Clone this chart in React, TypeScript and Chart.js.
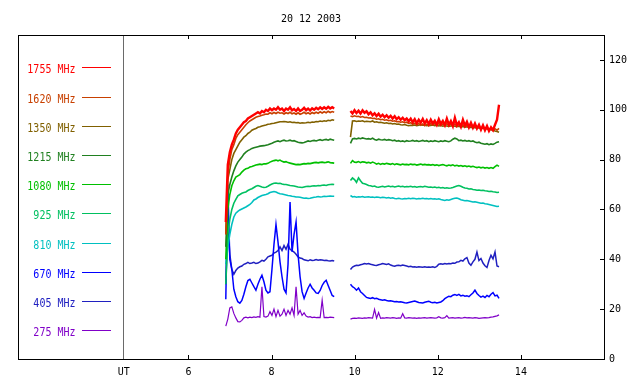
import React, { useEffect, useRef } from 'react';
import { Chart, registerables } from 'chart.js';

Chart.register(...registerables);

const TITLE = '20 12 2003';
const UT_LABEL = 'UT';
const UT_POS = 4.445;
const X_MIN = 1.9;
const X_MAX = 16;
const Y_MIN = 0;
const Y_MAX = 130;
const X_TICKS = [6, 8, 10, 12, 14];
const Y_TICKS = [0, 20, 40, 60, 80, 100, 120];

// sampling of the two observing segments (hours UT)
const SEG1_START = 6.9;
const SEG2_START = 9.9;
const STEP = 0.0483;

const FREQS = ['1755 MHz', '1620 MHz', '1350 MHz', '1215 MHz', '1080 MHz', '925 MHz', '810 MHz', '670 MHz', '405 MHz', '275 MHz'];
const COLORS = ['#ff0000', '#c84000', '#806000', '#208020', '#00c000', '#00c060', '#00c0c0', '#0000ff', '#2020c0', '#8000c8'];
const WIDTHS = [2.4, 1.6, 1.6, 1.6, 1.6, 1.6, 1.6, 1.5, 1.5, 1.2];

// ---- segment 1 ----
const F1755_A = [55, 78, 83, 86, 88, 90.5, 92, 93, 94, 95,
  95.5, 96.5, 97, 97.5, 98, 98.5, 99, 98.5, 99.5, 99,
  100, 99.5, 100.5, 99.8, 100.5, 100, 101, 100, 100.5, 99.5,
  100.5, 100, 101, 99.8, 100.3, 99.5, 100.5, 99.5, 100, 100.8,
  99.8, 100.5, 99.7, 100.6, 100, 100.8, 100.2, 101, 100.3, 101,
  100.4, 101.2, 100.5, 101, 100.5];
const F1620_A = [50, 74, 80, 84, 86, 88.5, 90, 91, 92, 93,
  94, 94.8, 95.5, 96, 96.5, 97, 97.3, 97.5, 97.8, 98,
  98.3, 98.2, 98.8, 98.4, 98.9, 98.5, 99, 98.6, 98.8, 98.3,
  98.8, 98.5, 99, 98.4, 98.7, 98.2, 98.8, 98.2, 98.5, 99,
  98.4, 98.8, 98.3, 98.9, 98.5, 99, 98.6, 99.2, 98.7, 99.2,
  98.8, 99.4, 98.9, 99.3, 99];
const F1350_A = [50, 72, 76, 80, 82.5, 84, 85.5, 87, 88, 89,
  89.6, 90.5, 91, 91.8, 92.2, 92.5, 93, 93.2, 93.5, 93.7,
  93.9, 94.2, 94.3, 94.5, 94.6, 94.8, 95, 95.2, 95.2, 95.3,
  95.2, 95, 95.2, 94.9, 95, 94.8, 94.9, 94.6, 94.8, 94.7,
  94.8, 95, 94.8, 95.1, 95, 95.3, 95.2, 95.5, 95.3, 95.6,
  95.4, 95.8, 95.6, 96, 95.8];
const F1215_A = [45, 66, 70, 73, 75.5, 77.5, 79, 80, 81, 82.2,
  83, 83.6, 84, 84.5, 84.8, 85, 85.2, 85.4, 85.5, 85.6,
  85.8, 86, 86.3, 86.6, 87, 87.3, 87.5, 87.2, 87.6, 87.8,
  87.5, 87.6, 87.8, 87.5, 87.6, 87.3, 87, 86.8, 86.7, 86.9,
  87.2, 87.5, 87.3, 87.6, 87.7, 87.5, 87.8, 88, 87.7, 88,
  88.1, 87.8, 88.2, 88, 87.8];
const F1080_A = [40, 60, 66, 69.5, 71.5, 73, 73.5, 74, 75, 75.8,
  76.3, 76.5, 77, 77.2, 77.5, 77.8, 78, 78.2, 78, 78.3,
  78.3, 78.5, 79, 79.3, 79.6, 79.8, 79.5, 79.8, 79.3, 79,
  79.2, 78.8, 78.6, 78.4, 78.2, 78, 78.1, 78, 78.2, 78.4,
  78.3, 78.5, 78.4, 78.6, 78.8, 78.9, 78.7, 78.9, 79, 78.8,
  78.9, 79.1, 78.8, 78.7, 78.6];
const F925_A = [30, 50, 56, 60, 62.5, 64, 65.5, 66, 66.5, 66.8,
  67, 67.6, 68, 68.3, 68.8, 69.3, 69.6, 69.3, 69, 68.8,
  68.9, 69.3, 69.8, 70.2, 70.5, 70.6, 70.4, 70.5, 70.2, 70,
  70, 69.8, 69.6, 69.5, 69.4, 69.2, 69, 68.9, 68.8, 69,
  69.2, 69.3, 69.2, 69.4, 69.5, 69.4, 69.6, 69.5, 69.7, 69.8,
  69.6, 69.9, 70, 70.1, 70];
const F810_A = [38, 45, 50, 54, 57, 58.5, 59.2, 59.8, 60.2, 60.6,
  61, 61.5, 62, 62.8, 63.8, 64.2, 64.8, 65.2, 65.6, 65.8,
  66, 66.3, 66.8, 67, 67.2, 67, 66.6, 66.3, 66.2, 66,
  65.8, 65.6, 65.5, 65.3, 65.2, 65, 65, 64.9, 64.7, 64.5,
  64.6, 64.4, 64.5, 64.7, 64.9, 65, 65.2, 65, 65.1, 65.3,
  65.2, 65.3, 65.4, 65.3, 65.3];
const F670_A = [24, 70, 40, 36, 28, 25, 23, 22.4, 23.5, 26,
  29, 31.5, 32, 30.5, 29, 27.6, 30, 32, 33.6, 31,
  27.6, 26.5, 27, 36, 46, 54, 47, 39, 33, 28,
  26.5, 38, 63, 43, 50, 55, 42, 33, 27, 24.3,
  26.5, 28.5, 30, 28.5, 27.6, 26.5, 26.3, 27.5, 29.5, 30.8,
  31.6, 29.5, 27.5, 25.5, 25];
const F405_A = [30, 55, 42, 36, 34, 35.5, 36.5, 37, 37.3, 38,
  38.3, 38.8, 38.3, 38.5, 38.8, 38.3, 38.5, 39, 39.6, 39.3,
  40, 41, 41.3, 41.6, 42.5, 42.9, 43.5, 45, 43.5, 45.5,
  44, 46, 44, 43.5, 42.9, 42, 41, 40.5, 40.3, 39.8,
  39.6, 39.4, 39.8, 39.5, 39.6, 39.9, 39.6, 39.8, 39.7, 39.5,
  39.6, 39.4, 39.3, 39.5, 39.3];
const F275_A = [13.2, 16, 20.5, 20.9, 18.3, 16.5, 15, 14.9, 15.5, 16.5,
  16.8, 16.5, 16.8, 16.6, 16.9, 16.7, 17, 16.8, 29, 17,
  16.8, 17.2, 19, 17.5, 20, 17, 19.5, 17.2, 18, 20,
  17.5, 19.5, 18, 20.5, 17.5, 29, 18, 19.5, 17.5, 18.5,
  17.2, 16.8, 17, 16.6, 16.8, 16.6, 16.7, 16.6, 23.6, 16.6,
  16.7, 16.6, 16.8, 16.7, 16.6];

// ---- segment 2 ----
const F1755_B = [99.5, 98.5, 99.8, 98.7, 99.6, 98.5, 99.8, 98.8, 99.4, 98.2,
  99, 97.8, 98.6, 97.5, 98.4, 97.2, 98, 97, 97.8, 96.8,
  97.6, 96.5, 97.4, 96.2, 97, 96, 96.8, 95.8, 96.5, 95.4,
  96.4, 95, 96.2, 94.6, 96, 94.8, 96.3, 94.5, 95.8, 94.3,
  96, 94.5, 95.6, 94, 96.2, 94.3, 95.5, 93.8, 96.4, 94,
  95.5, 93.5, 96.8, 93.8, 95, 93.2, 96, 93.6, 95.2, 93,
  94.8, 92.8, 94.5, 92.5, 94, 92, 93.8, 91.8, 93.5, 91.5,
  93, 91.8, 94, 96, 102];
const F1620_B = [97.5, 97.2, 97.6, 97.3, 97.4, 97, 97.3, 96.9, 97, 96.7,
  96.8, 96.5, 96.6, 96.2, 96.4, 96, 96.2, 95.8, 96, 95.6,
  95.8, 95.4, 95.6, 95.2, 95.3, 95, 95.2, 94.8, 95, 94.5,
  94.8, 94.2, 94.6, 94, 94.5, 93.8, 94.3, 93.6, 94.2, 93.5,
  94.5, 94, 94.4, 93.8, 94.5, 93.7, 94.2, 93.8, 94.4, 93.6,
  94.2, 93.5, 94.3, 93.3, 94, 93.2, 94, 93.1, 93.8, 93,
  93.6, 92.9, 93.4, 92.7, 93.2, 92.4, 93, 92.2, 92.8, 92,
  92.3, 91.6, 92.4, 91.8, 92.5];
const F1350_B = [89, 95.5, 95.6, 95.3, 95.5, 95.4, 95.6, 95.2, 95.4, 95.3,
  95.2, 95.5, 95, 95.2, 94.9, 95, 94.8, 94.6, 94.8, 94.5,
  94.6, 94.3, 94.5, 94.2, 94.3, 94, 93.9, 94.1, 93.8, 93.6,
  93.8, 93.7, 93.9, 93.6, 93.8, 94, 93.8, 93.9, 93.6, 93.8,
  93.7, 93.9, 93.6, 93.8, 93.5, 93.7, 93.4, 93.6, 93.5, 93.3,
  93.5, 93.6, 93.4, 93.2, 93.4, 93.1, 93.3, 93, 93.2, 92.9,
  93, 92.8, 92.9, 92.6, 92.8, 92.5, 92.7, 92.3, 92.5, 92.2,
  92, 91.8, 91.5, 91.3, 91];
const F1215_B = [86.5, 88.3, 88.5, 88.3, 88.6, 88.4, 88.7, 88.5, 88.3, 88.4,
  88.2, 88.6, 88.1, 87.8, 88.2, 88, 87.9, 88.1, 87.8, 88,
  87.9, 87.6, 87.8, 87.4, 87.6, 87.3, 87.5, 87.2, 87.6, 87.4,
  87.5, 87.7, 87.4, 87.6, 87.3, 87.5, 87.7, 87.4, 87.6, 87.2,
  87.5, 87.3, 87.6, 87.4, 87.2, 87.5, 87.3, 87.6, 87.4, 87.2,
  87.5, 88.2, 88.6, 88.3, 87.6, 87.8, 87.5, 87.7, 87.4, 87.6,
  87.3, 87.5, 87.1, 86.8, 87, 86.6, 86.4, 86.2, 86.4, 86,
  86.3, 86.1, 86.5, 87, 87.2];
const F1080_B = [78.5, 79.6, 79, 78.9, 79.2, 78.8, 79.1, 79, 78.7, 78.9,
  78.6, 79, 78.7, 78.2, 78.5, 78.1, 78.4, 78.2, 78.5, 78.3,
  78.1, 78.4, 78, 78.3, 78.1, 77.9, 78.2, 78, 78.1, 77.9,
  78.2, 78, 78.1, 77.8, 78, 78.2, 77.9, 78.1, 77.9, 78,
  77.8, 78, 77.7, 77.9, 77.6, 77.8, 78, 77.7, 77.5, 77.8,
  77.6, 77.9, 77.5, 77.7, 77.4, 77.6, 77.3, 77.5, 77.2, 77.4,
  77.1, 77.3, 77, 76.8, 77, 76.7, 76.9, 76.6, 76.8, 76.5,
  76.8, 76.5, 77.2, 77.8, 77.3];
const F925_B = [71.6, 72.7, 72, 70.9, 72.7, 71.5, 70.5, 70.3, 70, 69.6,
  69.5, 69.2, 69.4, 69, 68.9, 69.1, 69.3, 69, 69.2, 69.4,
  69.1, 69.3, 69, 69.2, 69.4, 69.1, 69.3, 69, 69.2, 69.1,
  69.3, 69, 69.2, 68.9, 69.1, 69.2, 69, 69.3, 69.1, 68.9,
  69, 68.8, 69, 68.7, 68.9, 68.6, 68.8, 68.5, 68.7, 68.5,
  68.6, 68.8, 69.1, 69.4, 69.6, 69.3, 68.9, 68.6, 68.5, 68.2,
  68.3, 68, 67.9, 67.7, 67.8, 67.6, 67.7, 67.5, 67.4, 67.2,
  67.3, 67.1, 67, 66.8, 66.9];
const F810_B = [65.6, 65, 65.2, 64.9, 65.1, 65, 65.2, 64.9, 65, 65.1,
  64.9, 65, 64.8, 65, 64.9, 64.7, 64.9, 64.8, 64.6, 64.8,
  64.5, 64.7, 64.4, 64.3, 64.5, 64.3, 64.2, 64.4, 64.3, 64.5,
  64.3, 64.5, 64.4, 64.2, 64.4, 64.3, 64.5, 64.3, 64.4, 64.2,
  64.4, 64.2, 64.3, 64.1, 64.3, 64, 63.8, 63.6, 63.9, 63.7,
  64, 64.3, 64.5, 64.6, 64.3, 63.9, 63.7, 63.5, 63.6, 63.4,
  63.2, 63, 63.1, 62.9, 62.7, 62.5, 62.6, 62.3, 62.2, 62,
  61.8, 61.6, 61.4, 61.2, 61.3];
const F670_B = [30, 29, 28.5, 27.6, 28.5, 27, 26.3, 25.5, 24.7, 24.5,
  24.3, 24.6, 24.2, 24.4, 24, 23.8, 23.6, 23.8, 23.5, 23.3,
  23.4, 23.2, 23, 23.1, 22.9, 23, 22.8, 22.6, 22.5, 22.7,
  22.9, 23.1, 23.3, 23, 22.7, 22.6, 22.5, 22.8, 23, 23.2,
  22.8, 22.6, 22.8, 22.5, 22.7, 22.9, 23.4, 24.2, 24.7, 25.2,
  25, 25.6, 25.9, 25.5, 25.9, 25.3, 25.6, 25.2, 25.4, 25,
  25.8, 26.5, 27.6, 26.3, 25.5, 24.8, 25.2, 24.7, 25.5, 25,
  26, 26.6, 25.3, 25.6, 24.3];
const F405_B = [35.9, 36.9, 37.3, 37.6, 37.5, 37.8, 38, 38.3, 38.1, 38.3,
  38, 37.8, 37.6, 37.5, 37.8, 38, 38.3, 38.1, 37.9, 38.2,
  37.7, 37.4, 37.2, 37.5, 37.6, 37.4, 37.7, 37.5, 37.3, 37,
  37.2, 36.9, 37, 36.8, 37, 36.9, 36.8, 37, 36.8, 36.9,
  36.8, 37, 36.7, 37.2, 38, 38.2, 38, 38.3, 38.1, 38.3,
  38.2, 38.5, 38.4, 38.9, 39, 39.6, 39.3, 40.2, 40.7, 38.5,
  37.6, 39, 40, 42.9, 39.5, 40.3, 38.5, 37.4, 36.7, 39.5,
  41.6, 40.2, 42.9, 37.3, 37];
const F275_B = [16, 16.3, 16.4, 16.3, 16.5, 16.4, 16.3, 16.5, 16.4, 16.6,
  16.5, 16.4, 19.9, 16.4, 18.6, 16.3, 16.5, 16.4, 16.6, 16.5,
  16.4, 16.6, 16.5, 16.3, 16.5, 16.4, 18.2, 16.5, 16.4, 16.6,
  16.5, 16.4, 16.5, 16.3, 16.5, 16.4, 16.5, 16.6, 16.4, 16.5,
  16.6, 16.5, 16.4, 16.5, 17, 16.5, 16.4, 16.6, 17.4, 16.4,
  16.5, 16.6, 16.4, 16.5, 16.6, 16.4, 16.5, 16.7, 16.5, 16.6,
  16.5, 16.4, 16.6, 16.5, 16.3, 16.4, 16.5, 16.6, 16.5, 16.6,
  16.8, 16.9, 17.1, 17.3, 17.7];

const SERIES_A = [F1755_A, F1620_A, F1350_A, F1215_A, F1080_A, F925_A, F810_A, F670_A, F405_A, F275_A];
const SERIES_B = [F1755_B, F1620_B, F1350_B, F1215_B, F1080_B, F925_B, F810_B, F670_B, F405_B, F275_B];

const FONT = 'DejaVu Sans Mono';

function buildPoints(a: number[], b: number[]) {
  const pts: { x: number; y: number | null }[] = a.map((v, i) => ({ x: SEG1_START + i * STEP, y: v }));
  pts.push({ x: (SEG1_START + (a.length - 1) * STEP + SEG2_START) / 2, y: null });
  b.forEach((v, i) => pts.push({ x: SEG2_START + i * STEP, y: v }));
  return pts;
}

const framePlugin = {
  id: 'frameDecor',
  afterDraw(chart: any) {
    const { ctx, chartArea: a, scales } = chart;
    ctx.save();
    ctx.strokeStyle = '#000';
    ctx.lineWidth = 1;
    ctx.strokeRect(a.left + 0.5, a.top + 0.5, a.right - a.left, a.bottom - a.top);
    ctx.beginPath();
    X_TICKS.forEach((v) => {
      const x = Math.round(scales.x.getPixelForValue(v)) + 0.5;
      ctx.moveTo(x, a.bottom);
      ctx.lineTo(x, a.bottom - 4);
      ctx.moveTo(x, a.top);
      ctx.lineTo(x, a.top + 4);
    });
    Y_TICKS.forEach((v) => {
      const y = Math.round(scales.y.getPixelForValue(v)) + 0.5;
      ctx.moveTo(a.right, y);
      ctx.lineTo(a.right - 4, y);
    });
    ctx.stroke();

    // title
    ctx.fillStyle = '#000';
    ctx.font = `10px "${FONT}"`;
    ctx.textAlign = 'center';
    ctx.textBaseline = 'alphabetic';
    ctx.fillText(TITLE, (a.left + a.right) / 2, 21.5);

    // legend
    const row0 = 67.3;
    const gap = 29.22;
    FREQS.forEach((label, i) => {
      const y = Math.round(row0 + i * gap) + 0.5;
      ctx.strokeStyle = COLORS[i];
      ctx.beginPath();
      ctx.moveTo(82, y);
      ctx.lineTo(111, y);
      ctx.stroke();
      ctx.fillStyle = COLORS[i];
      ctx.save();
      ctx.translate(75.5, y + 5);
      ctx.scale(1, 1.25);
      ctx.textAlign = 'right';
      ctx.fillText(label, 0, 0);
      ctx.restore();
    });
    ctx.restore();
  },
};

export default function App() {
  const ref = useRef<HTMLCanvasElement>(null);
  useEffect(() => {
    if (!ref.current) return;
    const datasets = FREQS.map((label, i) => ({
      label,
      data: buildPoints(SERIES_A[i], SERIES_B[i]),
      borderColor: COLORS[i],
      backgroundColor: COLORS[i],
      borderWidth: WIDTHS[i],
      pointRadius: 0,
      tension: 0,
      fill: false,
      spanGaps: false,
    }));
    const chart = new Chart(ref.current, {
      type: 'line',
      data: { datasets },
      options: {
        animation: false,
        responsive: false,
        maintainAspectRatio: false,
        layout: { padding: { left: 18, top: 35, right: 0, bottom: 0 } },
        plugins: {
          legend: { display: false },
          tooltip: { enabled: false },
          title: { display: false },
        },
        scales: {
          x: {
            type: 'linear',
            position: 'bottom',
            min: X_MIN,
            max: X_MAX,
            afterBuildTicks: (s: any) => {
              s.ticks = [UT_POS, ...X_TICKS].map((v) => ({ value: v }));
            },
            afterFit: (s: any) => {
              s.height = 25;
            },
            ticks: {
              autoSkip: false,
              maxRotation: 0,
              color: '#000',
              padding: 7,
              font: { family: FONT, size: 10 },
              callback: (v: any) => (Math.abs(Number(v) - UT_POS) < 1e-6 ? UT_LABEL : String(v)),
            },
            grid: {
              display: true,
              drawTicks: false,
              drawOnChartArea: true,
              lineWidth: 1,
              color: (c: any) => (c.tick && Math.abs(c.tick.value - UT_POS) < 1e-6 ? '#6a6a6a' : 'rgba(0,0,0,0)'),
            },
            border: { display: false },
          },
          y: {
            type: 'linear',
            position: 'right',
            min: Y_MIN,
            max: Y_MAX,
            afterBuildTicks: (s: any) => {
              s.ticks = Y_TICKS.map((v) => ({ value: v }));
            },
            afterFit: (s: any) => {
              s.width = 36;
            },
            ticks: {
              color: '#000',
              padding: 5,
              font: { family: FONT, size: 10 },
              callback: (v: any) => String(v),
            },
            grid: { display: false, drawTicks: false },
            border: { display: false },
          },
        },
      },
      plugins: [framePlugin],
    });
    return () => chart.destroy();
  }, []);
  return (
    <div style={{ position: 'fixed', left: 0, top: 0, width: 640, height: 384, background: '#fff' }}>
      <canvas ref={ref} width={640} height={384} style={{ display: 'block' }} />
    </div>
  );
}
